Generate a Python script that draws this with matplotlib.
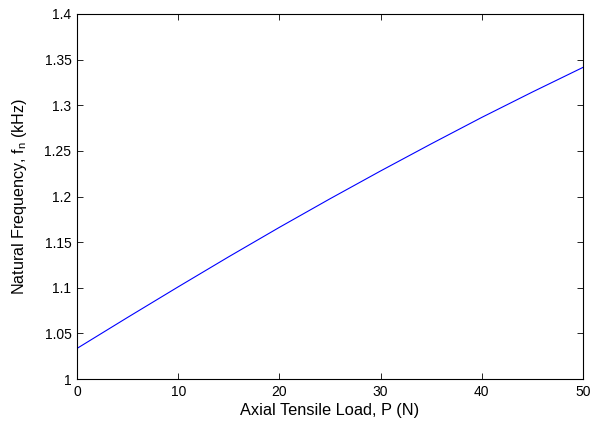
import matplotlib
matplotlib.use("Agg")
import matplotlib.pyplot as plt

# values
load_N = [0, 5, 10, 15, 20, 25, 30, 35, 40, 45, 50]
freq_kHz = [1.0335, 1.0675, 1.1010, 1.1340, 1.1662, 1.1975, 1.2280,
            1.2577, 1.2867, 1.3145, 1.3415]

plt.rcParams['font.family'] = ['Liberation Sans', 'DejaVu Sans']
plt.rcParams['font.size'] = 10
plt.rcParams['mathtext.fontset'] = 'custom'
plt.rcParams['mathtext.rm'] = 'Liberation Sans'
plt.rcParams['mathtext.it'] = 'Liberation Sans'

fig = plt.figure(figsize=(5.9, 4.23), dpi=100)
ax = fig.add_axes([77/590, 44/423, 506/590, 365/423])

ax.plot(load_N, freq_kHz, color=(0, 0, 1), linewidth=0.8)

ax.set_xlim(0, 50)
ax.set_ylim(1, 1.4)
ax.set_xticks([0, 10, 20, 30, 40, 50])
ax.set_yticks([1, 1.05, 1.1, 1.15, 1.2, 1.25, 1.3, 1.35, 1.4])
ax.set_yticklabels(['1', '1.05', '1.1', '1.15', '1.2', '1.25', '1.3', '1.35', '1.4'])
ax.tick_params(direction='in', top=True, right=True, length=4, width=0.6,
               pad=4, labelsize=10)
for s in ax.spines.values():
    s.set_linewidth(0.8)

ax.set_xlabel('Axial Tensile Load, P (N)', fontsize=11.8, labelpad=3)
ax.set_ylabel('Natural Frequency, f$_\\mathrm{n}$ (kHz)', fontsize=11.6, labelpad=11)

fig.savefig('out.png', dpi=100)
